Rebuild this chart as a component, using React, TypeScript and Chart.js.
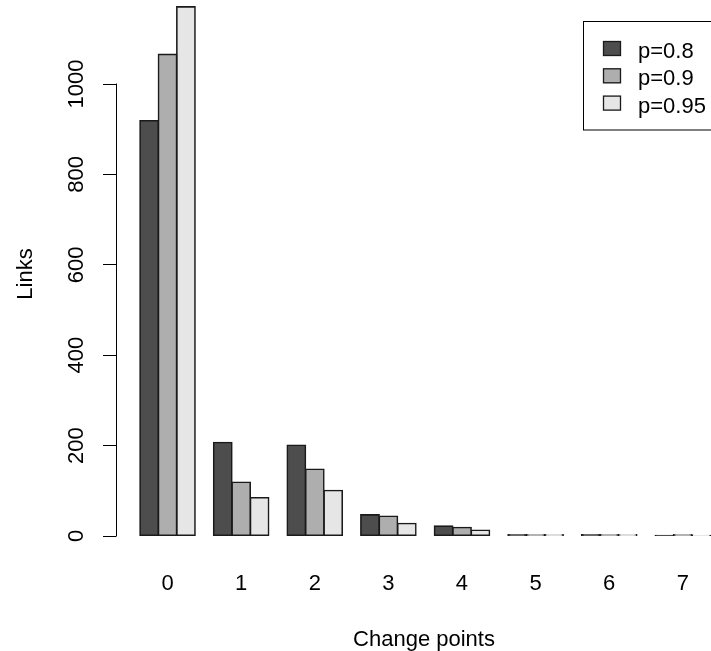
import React, { useEffect, useRef } from "react";
import { Chart, registerables } from "chart.js";

Chart.register(...registerables);

const categories = ["0", "1", "2", "3", "4", "5", "6", "7"];
const seriesLabels = ["p=0.8", "p=0.9", "p=0.95"];
const p08 = [919, 207, 201, 47, 22, 3, 3, 1];
const p09 = [1066, 119, 148, 44, 19, 3, 3, 3];
const p095 = [1171, 85, 101, 28, 13, 3, 3, 1];
const yTicks = [0, 200, 400, 600, 800, 1000];
const xTitle = "Change points";
const yTitle = "Links";
const seriesColors = ["#4D4D4D", "#AEAEAE", "#E6E6E6"];

const FONT = "'Liberation Sans', Arial, Helvetica, sans-serif";
const FS = 22;

const decor = {
  id: "decor",
  afterDraw(chart: any) {
    const ctx = chart.ctx as CanvasRenderingContext2D;
    const ys = chart.scales.y;
    const area = chart.chartArea;
    ctx.save();
    // y axis line from first to last tick
    const ax = Math.round(area.left - 0.5) + 0.5;
    ctx.strokeStyle = "#000";
    ctx.lineWidth = 1;
    ctx.beginPath();
    ctx.moveTo(ax, ys.getPixelForValue(yTicks[0]) + 0.5);
    ctx.lineTo(ax, ys.getPixelForValue(yTicks[yTicks.length - 1]) - 0.5);
    ctx.stroke();

    ctx.fillStyle = "#000";
    ctx.font = `${FS}px ${FONT}`;
    ctx.textAlign = "center";
    ctx.textBaseline = "alphabetic";
    // y tick labels, rotated
    for (const v of yTicks) {
      const py = ys.getPixelForValue(v);
      ctx.save();
      ctx.translate(area.left - 33, py);
      ctx.rotate(-Math.PI / 2);
      ctx.fillText(String(v), 0, 0);
      ctx.restore();
    }
    // y title
    ctx.save();
    ctx.translate(31.5, 274);
    ctx.rotate(-Math.PI / 2);
    ctx.fillText(yTitle, 0, 0);
    ctx.restore();
    // x title
    ctx.fillText(xTitle, 424, 646);

    // legend
    ctx.strokeStyle = "#000";
    ctx.lineWidth = 1;
    ctx.strokeRect(583.5, 21.5, 150, 108.5);
    ctx.textAlign = "left";
    chart.data.datasets.forEach((ds: any, i: number) => {
      const cy = 48.5 + i * 27.3;
      ctx.fillStyle = ds.backgroundColor;
      ctx.fillRect(603, cy - 7.5, 18, 15);
      ctx.lineWidth = 1.3;
      ctx.strokeStyle = "#1a1a1a";
      ctx.strokeRect(603.5, cy - 7, 17, 14);
      ctx.fillStyle = "#000";
      ctx.fillText(ds.label, 638, cy + 9.5);
    });
    ctx.restore();
  },
};

export default function App() {
  const ref = useRef<HTMLCanvasElement | null>(null);

  useEffect(() => {
    if (!ref.current) return;
    const series = [p08, p09, p095];
    const chart = new Chart(ref.current, {
      type: "bar",
      data: {
        datasets: series.map((vals, si) => ({
          label: seriesLabels[si],
          data: vals.map((v, i) => ({ x: i, y: v })),
          backgroundColor: seriesColors[si],
          borderColor: "#1a1a1a",
          borderWidth: 1.6,
          borderSkipped: false,
          inflateAmount: 0.7,
          categoryPercentage: 0.75,
          barPercentage: 1.0,
        })),
      },
      options: {
        responsive: false,
        animation: false,
        events: [],
        layout: { padding: { left: 103, right: 13, top: 0, bottom: 0 } },
        plugins: { legend: { display: false }, tooltip: { enabled: false } },
        scales: {
          x: {
            type: "linear",
            min: -0.7,
            max: 7.6,
            offset: false,
            grid: { display: false, drawTicks: false },
            border: { display: false },
            afterBuildTicks: (s: any) => {
              s.ticks = categories.map((_, i) => ({ value: i }));
            },
            afterFit: (s: any) => {
              s.height = 115;
            },
            ticks: {
              autoSkip: false,
              maxRotation: 0,
              minRotation: 0,
              padding: 35,
              color: "#000",
              font: { family: FONT, size: FS },
              callback: (v: any) => categories[v as number] ?? "",
            },
          },
          y: {
            type: "linear",
            min: 0,
            max: 1186,
            grid: {
              drawOnChartArea: false,
              drawTicks: true,
              tickLength: 13,
              color: "#000",
              lineWidth: 1,
            },
            border: { display: false },
            afterBuildTicks: (s: any) => {
              s.ticks = yTicks.map((v) => ({ value: v }));
            },
            afterFit: (s: any) => {
              s.width = 13;
            },
            ticks: { display: false },
          },
        },
      },
      plugins: [decor],
    });
    return () => chart.destroy();
  }, []);

  return (
    <div
      style={{
        position: "absolute",
        left: 0,
        top: 0,
        width: 711,
        height: 651,
        overflow: "hidden",
        background: "#fff",
      }}
    >
      <canvas ref={ref} width={740} height={651} style={{ width: 740, height: 651, display: "block" }} />
    </div>
  );
}
